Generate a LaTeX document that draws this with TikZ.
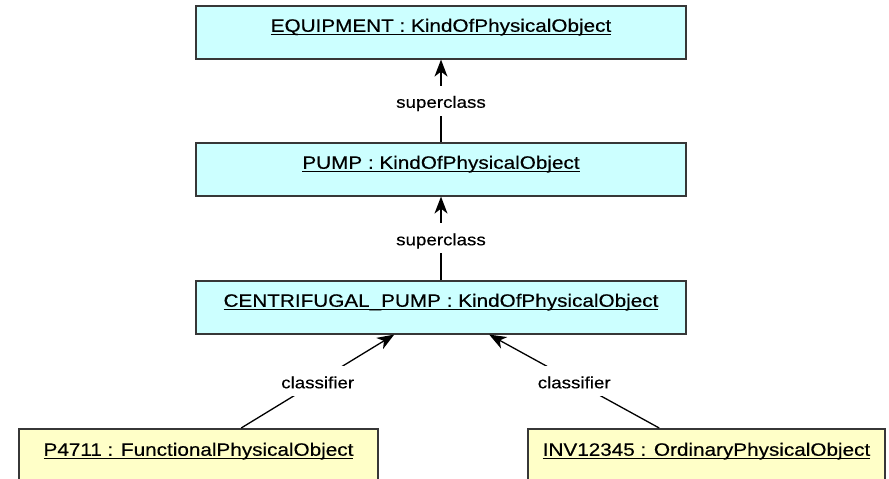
\documentclass[tikz,border=0pt]{standalone}
\usepackage{fontspec}
\setmainfont{Liberation Sans}
\newfontfamily\boxfont[FakeStretch=1.15,FakeBold=0.4]{Liberation Sans}
\usetikzlibrary{arrows.meta}
\definecolor{kindfill}{RGB}{204,255,255}
\definecolor{objfill}{RGB}{255,255,200}
\definecolor{edgegray}{RGB}{55,55,55}
\newcommand{\ulx}[1]{\setbox0\hbox{#1}\rlap{\rule[-3.3pt]{\wd0}{1.3pt}}\box0}
\tikzset{
  umlbox/.style={draw=edgegray, line width=1.6pt, rectangle, inner sep=0pt,
    anchor=north, font=\boxfont\fontsize{18}{20}\selectfont},
  kindbox/.style={umlbox, fill=kindfill, minimum width=490pt, text height=26pt, text depth=27pt},
  objbox/.style={umlbox, fill=objfill, text height=27pt, text depth=40pt},
  conn/.style={draw=black, line width=1.3pt, -{Stealth[length=17pt,width=13pt,inset=5pt]}},
  lbl/.style={fill=white, inner xsep=3pt, inner ysep=6pt, text height=16pt, text depth=2pt,
    font=\boxfont\fontsize{16.3}{18}\selectfont}
}
\begin{document}
\begin{tikzpicture}[x=1pt,y=-1pt]
\useasboundingbox (0,0) rectangle (889,479);
\clip (0,0) rectangle (889,479);
\fill[white] (0,0) rectangle (889,479);
\node[kindbox] (equip) at (441,5) {\ulx{EQUIPMENT : KindOfPhysicalObject}};
\node[kindbox] (pump) at (441,142) {\ulx{PUMP : KindOfPhysicalObject}};
\node[kindbox] (cpump) at (441,280) {\ulx{CENTRIFUGAL\_PUMP : KindOfPhysicalObject}};
\node[objbox, minimum width=359pt] (p4711) at (198.5,428) {\ulx{P4711 : FunctionalPhysicalObject}};
\node[objbox, minimum width=357pt] (inv) at (706.5,428) {\ulx{INV12345 : OrdinaryPhysicalObject}};
\draw[conn] (pump.north) -- node[lbl] (l1) {superclass} (equip.south);
\draw[conn] (cpump.north) -- node[lbl] (l2) {superclass} (pump.south);
\draw[conn] ([xshift=223pt]p4711.north west) -- node[lbl] (l3) {classifier} ([xshift=199pt]cpump.south west);
\draw[conn] ([xshift=132pt]inv.north west) -- node[lbl] (l4) {classifier} ([xshift=294pt]cpump.south west);
\end{tikzpicture}
\end{document}
